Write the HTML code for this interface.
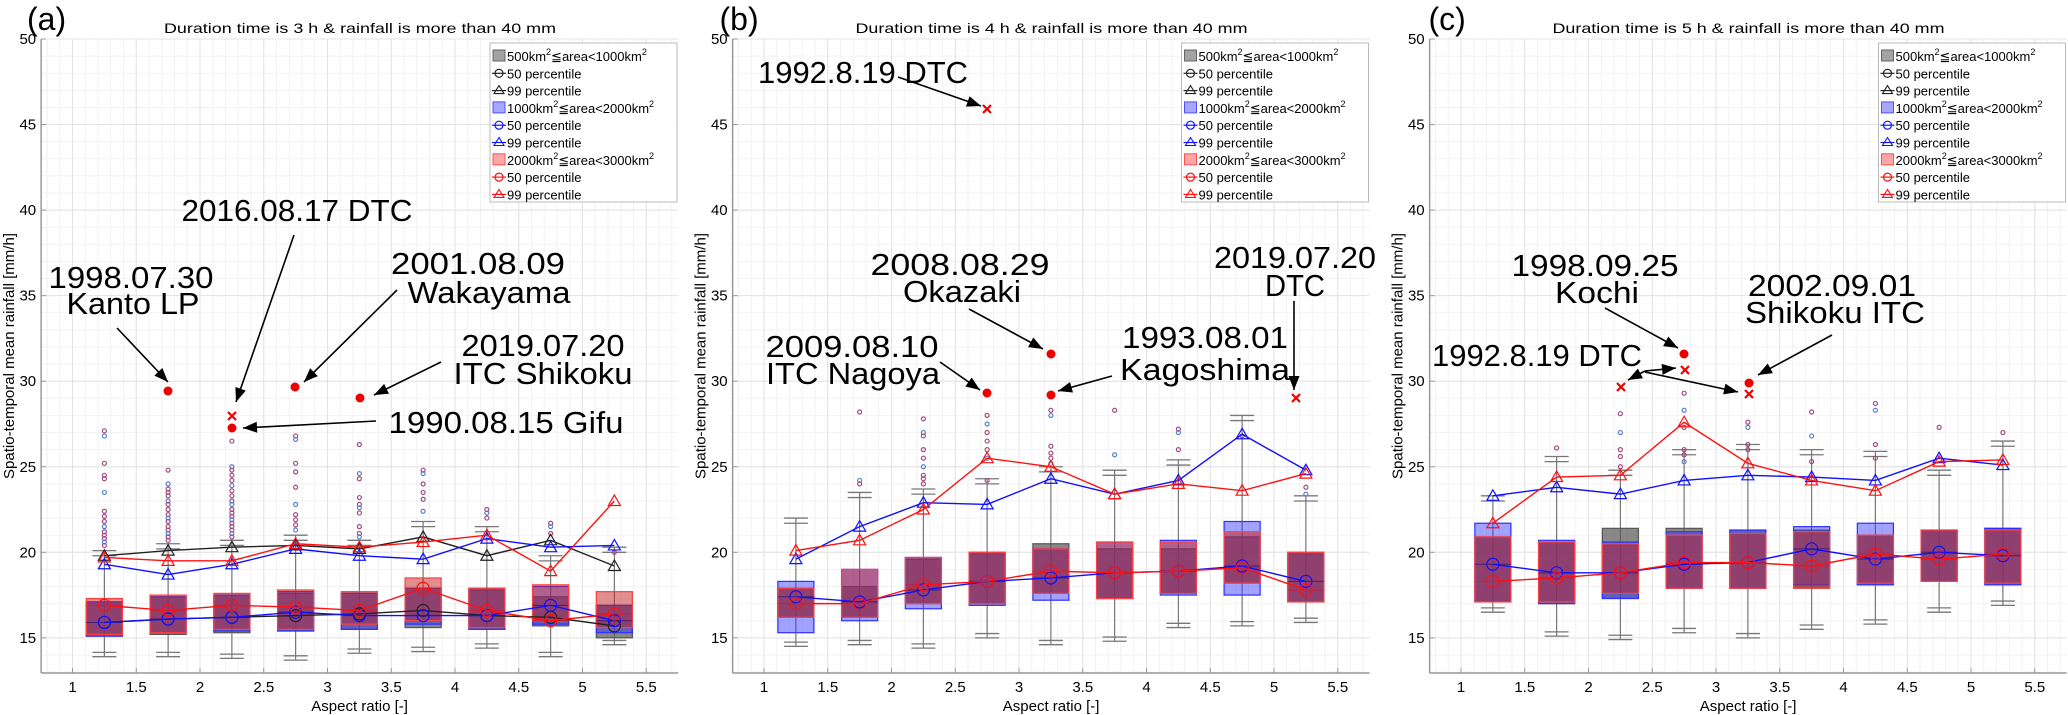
<!DOCTYPE html>
<html><head><meta charset="utf-8"><style>
html,body{margin:0;padding:0;background:#fff;}
svg{display:block;font-family:"Liberation Sans",sans-serif;}
</style></head><body>
<svg id="s" width="2068" height="715" viewBox="0 0 2068 715" xmlns="http://www.w3.org/2000/svg"></svg>
<script>
const S=document.getElementById('s');
let o='';
const OX=[0,691.5,1388.5];
const Y=d=>39+(50-d)*17.11;
const XS=[1.25,1.75,2.25,2.75,3.25,3.75,4.25,4.75,5.25];
function line(x1,y1,x2,y2,c,w,extra){o+=`<line x1="${x1}" y1="${y1}" x2="${x2}" y2="${y2}" stroke="${c}" stroke-width="${w}" ${extra||''}/>`;}
function txt(x,y,t,size,anchor,extra){o+=`<text x="${x}" y="${y}" font-size="${size}" text-anchor="${anchor||'start'}" ${extra||''}>${t}</text>`;}
function arrow(x1,y1,x2,y2){
 line(x1,y1,x2,y2,'#000',1.6);
 const a=Math.atan2(y2-y1,x2-x1),L=14,W=5.5;
 const bx=x2-L*Math.cos(a),by=y2-L*Math.sin(a);
 const px=-Math.sin(a)*W,py=Math.cos(a)*W;
 o+=`<polygon points="${x2},${y2} ${bx+px},${by+py} ${bx-px},${by-py}" fill="#000"/>`;
}
function tri(x,y,c){o+=`<polygon points="${x},${y-6} ${x-6},${y+4.5} ${x+6},${y+4.5}" fill="none" stroke="${c}" stroke-width="1.2"/>`;}
function circ(x,y,c,r){o+=`<circle cx="${x}" cy="${y}" r="${r||6}" fill="none" stroke="${c}" stroke-width="1.2"/>`;}
function dot(x,y){o+=`<circle cx="${x}" cy="${y}" r="4.5" fill="#e00"/>`;}
function cross(x,y){line(x-4,y-4,x+4,y+4,'#e00',2.2);line(x-4,y+4,x+4,y-4,'#e00',2.2);}
const titles=['Duration time is 3 h &amp; rainfall is more than 40 mm','Duration time is 4 h &amp; rainfall is more than 40 mm','Duration time is 5 h &amp; rainfall is more than 40 mm'];
const labs=['(a)','(b)','(c)'];
const D=[
{ // a
 b99:[19.8,20.1,20.3,20.4,20.2,20.9,19.8,20.7,19.2],
 bl99:[19.3,18.7,19.3,20.2,19.8,19.6,20.8,20.3,20.4],
 r99:[19.7,19.5,19.5,20.5,20.3,20.6,21.0,18.9,23.0],
 b50:[15.9,16.1,16.2,16.3,16.4,16.6,16.3,16.2,15.7],
 bl50:[15.9,16.1,16.2,16.5,16.3,16.3,16.3,16.9,16.0],
 r50:[16.9,16.6,16.9,16.8,16.6,17.9,16.6,16.0,16.4],
 g:[[15.1,17.1],[15.2,17.4],[15.3,17.5],[15.4,17.6],[15.5,17.6],[15.6,17.9],[15.5,17.8],[15.7,17.4],[15.0,16.9]],
 bb:[[15.1,17.1],[15.3,17.4],[15.4,17.5],[15.4,17.7],[15.5,17.6],[15.8,17.9],[15.5,17.9],[15.8,18.0],[15.3,16.9]],
 rb:[[15.2,17.3],[15.3,17.5],[15.5,17.6],[15.5,17.8],[15.8,17.7],[16.0,18.5],[15.6,17.9],[16.0,18.1],[15.6,17.7]],
 lo:[13.9,13.9,13.8,13.7,14.1,14.2,14.4,13.9,14.6],
 hi:[20.1,20.5,20.7,21.0,20.7,21.8,21.5,19.8,20.3],
 out:[[27.1,26.8,25.2,24.5,24.3,23.5,22.4,22.1,21.8,21.5,21.2,21.0,20.8,20.6,20.4],[24.8,24.0,23.7,23.5,23.3,23.0,22.8,22.5,22.2,22.0,21.8,21.5,21.3,21.1,20.9,20.7],[26.5,25.0,24.8,24.5,24.2,23.9,23.6,23.3,23.0,22.8,22.5,22.3,22.1,21.9,21.7,21.5,21.3,21.1,20.9],[26.8,26.6,25.2,24.7,23.8,22.8,22.2,21.9,21.6,21.3],[26.3,24.6,24.3,23.2,22.8,22.6,22.3,21.5,21.1,20.9],[24.8,24.6,24.0,23.5,23.1,22.4],[22.5,22.3,22.0],[21.7,21.5,21.1],[20.0]]
},
{ // b
 bl99:[19.6,21.5,22.9,22.8,24.3,23.4,24.2,26.9,24.8],
 r99:[20.1,20.7,22.5,25.5,25.0,23.4,24.0,23.6,24.6],
 bl50:[17.4,17.1,17.8,18.3,18.5,18.8,18.9,19.2,18.3],
 r50:[17.0,17.0,18.1,18.3,18.9,18.8,18.9,19.1,17.8],
 g:[[16.2,17.9],[16.2,18.0],[17.0,19.6],[17.0,19.9],[17.6,20.5],[17.3,20.2],[17.6,20.2],[18.2,20.9],[17.1,19.9]],
 bb:[[15.3,18.3],[16.0,19.0],[16.7,19.7],[16.9,20.0],[17.2,20.2],[17.3,20.6],[17.5,20.7],[17.5,21.8],[17.1,20.0]],
 rb:[[16.2,17.9],[16.2,19.0],[17.0,19.7],[17.0,20.0],[17.6,20.2],[17.3,20.6],[17.6,20.6],[18.2,21.2],[17.1,20.0]],
 lo:[14.5,14.6,14.4,15.0,14.6,14.8,15.6,15.7,15.9],
 hi:[22.0,23.5,23.7,24.3,25.0,24.8,25.4,28.0,23.3],
 out:[[],[28.2,24.2,24.0],[27.8,27.0,26.8,26.0,25.5,25.0,24.5,24.3,24.0],[28.0,27.5,27.0,26.5,26.0,25.5,24.2],[28.3,28.0,26.2,25.8,25.5,25.2],[28.3,25.7],[27.2,27.0,26.0],[26.8],[23.8,23.4]]
},
{ // c
 bl99:[23.3,23.8,23.4,24.2,24.5,24.4,24.2,25.5,25.1],
 r99:[21.7,24.4,24.5,27.6,25.2,24.2,23.6,25.3,25.4],
 bl50:[19.3,18.8,18.8,19.3,19.4,20.2,19.6,20.0,19.8],
 r50:[18.3,18.5,18.8,19.4,19.4,19.2,19.9,19.6,19.9],
 g:[[17.1,20.9],[17.0,20.6],[17.3,21.4],[17.9,21.4],[17.9,21.3],[17.9,21.3],[18.1,21.0],[18.3,21.3],[18.1,21.4]],
 bb:[[17.1,21.7],[17.0,20.7],[17.3,20.6],[17.9,21.2],[17.9,21.3],[18.1,21.5],[18.1,21.7],[18.3,21.3],[18.1,21.4]],
 rb:[[17.1,20.9],[17.1,20.6],[17.6,20.5],[17.9,21.0],[17.9,21.1],[17.9,21.2],[18.2,21.0],[18.3,21.3],[18.2,21.3]],
 lo:[16.5,15.1,14.9,15.3,15.0,15.5,15.8,16.5,16.9],
 hi:[23.3,25.6,24.8,26.0,26.3,26.0,25.9,24.8,26.5],
 out:[[],[26.1],[28.1,27.0,26.0,25.6,25.0],[29.3,28.3,27.3,26.0,25.7,25.3],[27.6,27.3,26.3,26.0],[28.2,26.8,25.3],[28.7,28.3,26.3,25.5],[27.3],[27.0]]
}];
for(let p=0;p<3;p++){
 const ox=OX[p];const X=d=>ox+72.5+(d-1)*127.5;
 const L=X(0.754),R=Math.min(X(5.75),2067),T=Y(50),B=673;
 for(let d=0.8;d<5.76;d+=0.1){const x=X(d);if(x>L+0.5&&x<R)line(x,T,x,B,'#f2f2f2',1);}
 for(let d=13;d<=50;d+=1){line(L,Y(d),R,Y(d),'#f2f2f2',1);}
 for(let d=1;d<=5.5;d+=0.5)line(X(d),T,X(d),B,'#e3e3e3',1);
 for(let d=15;d<=50;d+=5)line(L,Y(d),R,Y(d),'#e3e3e3',1);
 line(L,T,L,B,'#999',1.5);line(L,B,R,B,'#999',1.5);
 for(let d=15;d<=50;d+=5){line(L,Y(d),L+5,Y(d),'#999',1);txt(L-5,Y(d)+5,d,15,'end');}
 for(let d=1;d<=5.5;d+=0.5){line(X(d),B,X(d),B-5,'#999',1);txt(X(d),692,d,15,'middle');}
 txt((L+R)/2,711,'Aspect ratio [-]',15,'middle');
 txt(L-27,356,'Spatio-temporal mean rainfall [mm/h]',15,'middle',`transform="rotate(-90 ${L-27} 356)"`);
 txt(ox+360,33,titles[p],14,'middle','textLength="392" lengthAdjust="spacingAndGlyphs"');
 txt(ox+(p==0?27:p==1?28:40),30,labs[p],32,'start');
 const d=D[p];
 XS.forEach((x,i)=>{const cx=X(x);
  line(cx,Y(d.lo[i]),cx,Y(d.hi[i]),'#777',1.2);
  [d.lo[i],d.lo[i]+0.25,d.hi[i],d.hi[i]-0.3].forEach(v=>line(cx-12,Y(v),cx+12,Y(v),'#777',1.3));
 });
 XS.forEach((x,i)=>{const cx=X(x);
  const bx=(b,f,s,op)=>{o+=`<rect x="${cx-18}" y="${Y(b[1])}" width="36" height="${Y(b[0])-Y(b[1])}" fill="${f}" fill-opacity="${op}" stroke="${s}" stroke-width="1.2"/>`;};
  bx(d.g[i],'#555','#555',0.7);bx(d.bb[i],'#3030ff','#3030ff',0.45);bx(d.rb[i],'#c02020','#ff4040',0.5);
  line(cx-18,Y(d.r50[i]),cx+18,Y(d.r50[i]),'#c02040',1);
  line(cx-18,Y(d.bl50[i]),cx+18,Y(d.bl50[i]),'#402070',1);
 });
 XS.forEach((x,i)=>{d.out[i].forEach((v,k)=>circ(X(x),Y(v),k%4==1?'#5a7fd0':'#a04a80',2));});
 const pl=(arr,c,mk)=>{if(!arr)return;o+=`<polyline points="${arr.map((v,i)=>X(XS[i])+','+Y(v)).join(' ')}" fill="none" stroke="${c}" stroke-width="1.4"/>`;arr.forEach((v,i)=>mk(X(XS[i]),Y(v),c));};
 pl(d.b50,'#222',circ);pl(d.bl50,'#1010ff',circ);pl(d.r50,'#ff1010',circ);
 pl(d.b99,'#222',tri);pl(d.bl99,'#1010ff',tri);pl(d.r99,'#ff1010',tri);
 const lx=ox+490,ly=43;
 o+=`<rect x="${lx}" y="${ly}" width="${Math.min(187,2066-lx)}" height="159" fill="#fff" stroke="#bbb" stroke-width="1"/>`;
 const items=[['box','#666',0.6,'500km<tspan font-size="9" dy="-6">2</tspan><tspan dy="6">≦area&lt;1000km</tspan><tspan font-size="9" dy="-6">2</tspan>'],['c','#222','50 percentile'],['t','#222','99 percentile'],
 ['box','#5050ff',0.5,'1000km<tspan font-size="9" dy="-6">2</tspan><tspan dy="6">≦area&lt;2000km</tspan><tspan font-size="9" dy="-6">2</tspan>'],['c','#1010ff','50 percentile'],['t','#1010ff','99 percentile'],
 ['box','#ff5050',0.5,'2000km<tspan font-size="9" dy="-6">2</tspan><tspan dy="6">≦area&lt;3000km</tspan><tspan font-size="9" dy="-6">2</tspan>'],['c','#ff1010','50 percentile'],['t','#ff1010','99 percentile']];
 items.forEach((it,k)=>{const yy=ly+13+k*17.3;
  if(it[0]=='box'){o+=`<rect x="${lx+3}" y="${yy-6}" width="12" height="11" fill="${it[1]}" fill-opacity="${it[2]}" stroke="${it[1]}"/>`;txt(lx+17,yy+5,it[3],13);}
  else{line(lx+2,yy,lx+16,yy,it[1],1.2);if(it[0]=='c')circ(lx+9,yy,it[1],4);else o+=`<polygon points="${lx+9},${yy-5} ${lx+4},${yy+3} ${lx+14},${yy+3}" fill="none" stroke="${it[1]}" stroke-width="1.1"/>`;txt(lx+17,yy+5,it[2],13);}
 });
}
const A=(x,y,t,w)=>txt(x,y,t,31,'middle',`textLength="${w}" lengthAdjust="spacingAndGlyphs"`);
A(131,288,'1998.07.30',165);A(133,314,'Kanto LP',133);
A(297,221,'2016.08.17 DTC',231);
A(478,274,'2001.08.09',174);A(489,303,'Wakayama',163);
A(543,356,'2019.07.20',163);A(543,384,'ITC Shikoku',179);
A(506,433,'1990.08.15 Gifu',235);
dot(168,391);dot(295,387);dot(360,398);dot(232,428);cross(232,416);
arrow(117,328,168,382);arrow(294,235,236,402);arrow(397,290,304,382);arrow(441,362,374,395);arrow(376,421,243,428);
A(863,83,'1992.8.19 DTC',210);
A(960,275,'2008.08.29',179);A(962,302,'Okazaki',118);
A(852,357,'2009.08.10',173);A(853,384,'ITC Nagoya',174);
A(1205,348,'1993.08.01',166);
A(1205,380,'Kagoshima',170);
A(1295,268,'2019.07.20',162);A(1295,296,'DTC',60);
cross(987,109);dot(1051,354);dot(987,393);dot(1051,395);cross(1296,398);
arrow(898,77,981,106);arrow(969,309,1043,349);arrow(940,362,980,390);arrow(1112,376,1058,391);arrow(1294,301,1294,390);
A(1595,276,'1998.09.25',167);A(1597,303,'Kochi',84);
A(1832,296,'2002.09.01',168);A(1835,323,'Shikoku ITC',180);
A(1537,366,'1992.8.19 DTC',210);
dot(1684,354);cross(1685,370);cross(1621,387);dot(1749,383);cross(1749,394);
arrow(1605,308,1678,348);arrow(1832,335,1758,375);arrow(1645,371,1628,380);arrow(1645,371,1676,368);arrow(1645,372,1738,392);
S.innerHTML=o;
</script>
</body></html>
